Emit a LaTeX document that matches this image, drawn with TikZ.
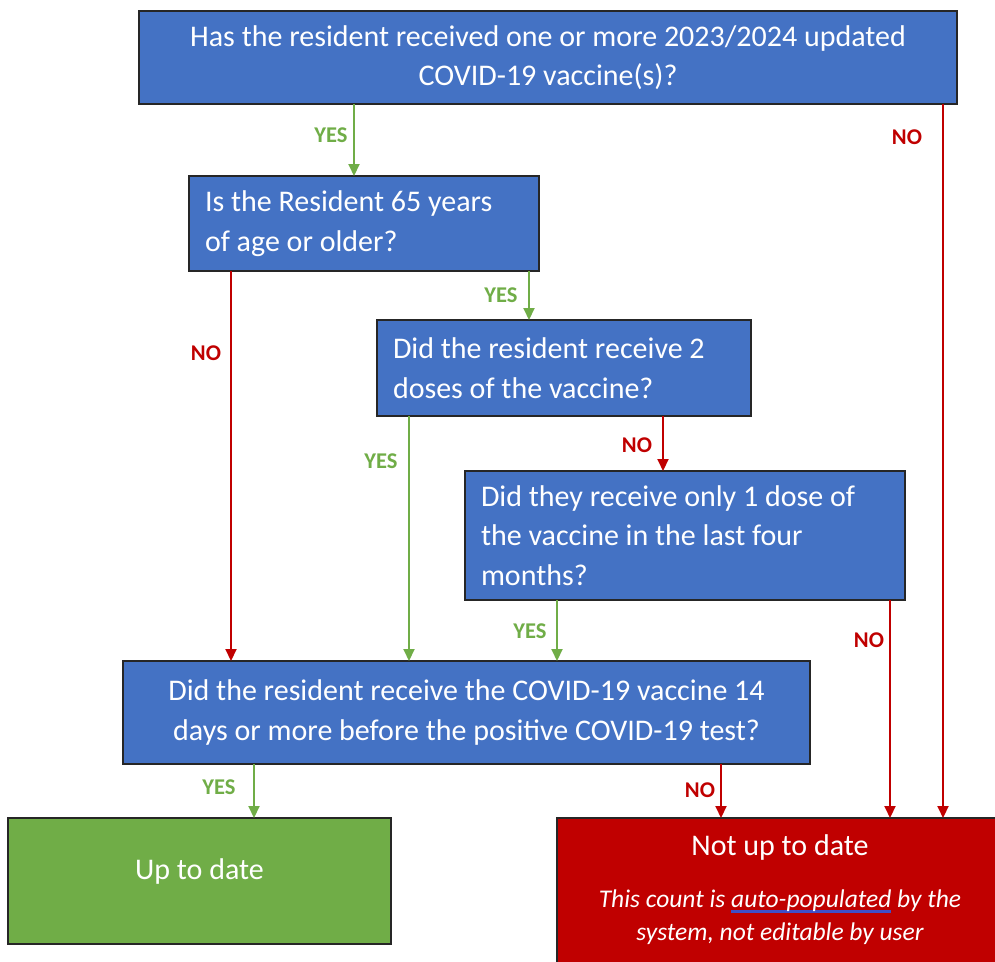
\documentclass[tikz,border=0pt]{standalone}
\usepackage{fontspec}
\setmainfont{Carlito}
\usetikzlibrary{arrows.meta}
\definecolor{qblue}{HTML}{4472C4}
\definecolor{okgreen}{HTML}{70AD47}
\definecolor{badred}{HTML}{C00000}
\definecolor{ulblue}{HTML}{3F4FC8}
\newcommand\myul[1]{\setbox0\hbox{#1}\rlap{\textcolor{ulblue}{\rule[-5.5pt]{\wd0}{2.2pt}}}\box0\relax}
\newcommand\normsp{\spaceskip=0pt\xspaceskip=0pt\relax}
\tikzset{
  qbox/.style={draw=black!85, line width=1.2pt, fill=qblue, text=white, outer sep=0pt,
    font=\fontsize{30}{39.5}\selectfont},
  qleft/.style={qbox, align=left, inner xsep=16pt, inner ysep=0pt},
  qcenter/.style={qbox, align=center, inner sep=0pt},
  endbox/.style={draw=black!85, line width=1.2pt, outer sep=0pt},
  yesarr/.style={draw=okgreen, line width=2pt, -{Triangle[length=12pt,width=11pt]}},
  noarr/.style={draw=badred, line width=2pt, -{Triangle[length=12pt,width=11pt]}},
  yeslbl/.style={text=okgreen, font=\fontsize{22.5}{26}\selectfont\bfseries, inner sep=0pt},
  nolbl/.style={text=badred, font=\fontsize{22.5}{26}\selectfont\bfseries, inner sep=0pt},
  endtxt/.style={text=white, inner sep=0pt, anchor=base}
}
\begin{document}
\begin{tikzpicture}[x=1pt,y=-1pt]
\clip (0,0) rectangle (995,961);
\fill[white] (0,0) rectangle (995,961);

\node[qcenter, minimum width=818pt, minimum height=93pt] (q1) at (548,57.5)
  {Has the resident received one or more 2023/2024 updated\\COVID-19 vaccine(s)?};
\node[qleft, text width=318pt, minimum height=95pt] (q2) at (364,223.5)
  {\normsp Is the Resident 65 years\\of age or older?};
\node[qleft, text width=342pt, minimum height=96pt] (q3) at (564,368)
  {\normsp Did the resident receive 2\\doses of the vaccine?};
\node[qleft, text width=408pt, minimum height=129pt] (q4) at (685,535.5)
  {\normsp Did they receive only 1 dose of\\the vaccine in the last four\\months?};
\node[qcenter, minimum width=687pt, minimum height=103pt] (q5) at (466.5,712.5)
  {Did the resident receive the COVID-19 vaccine 14\\days or more before the positive COVID-19 test?};

\node[endbox, fill=okgreen, minimum width=383pt, minimum height=126pt] (u) at (199.5,881) {};
\node[endtxt, font=\fontsize{30}{36}\selectfont] (ut) at (199.5,879) {Up to date};

\node[endbox, fill=badred, minimum width=446pt, minimum height=157pt] (r) at (780,896.5) {};
\node[endtxt, font=\fontsize{30}{36}\selectfont] (rt) at (780,855) {Not up to date};
\node[endtxt, font=\fontsize{25.5}{30}\selectfont\itshape] (ri1) at (780,907) {This count is \myul{auto-populated} by the};
\node[endtxt, font=\fontsize{25.5}{30}\selectfont\itshape] (ri2) at (780,940) {system, not editable by user};

% connectors
\draw[yesarr] ([xshift=215pt]q1.south west) -- ([xshift=165pt]q2.north west);
\draw[noarr]  ([xshift=804pt]q1.south west) -- ([xshift=386pt]r.north west);
\draw[noarr]  ([xshift=42pt]q2.south west) -- ([xshift=108pt]q5.north west);
\draw[yesarr] ([xshift=340pt]q2.south west) -- ([xshift=152pt]q3.north west);
\draw[yesarr] ([xshift=32pt]q3.south west) -- ([xshift=286pt]q5.north west);
\draw[noarr]  ([xshift=286pt]q3.south west) -- ([xshift=198pt]q4.north west);
\draw[yesarr] ([xshift=92pt]q4.south west) -- ([xshift=434pt]q5.north west);
\draw[noarr]  ([xshift=425pt]q4.south west) -- ([xshift=333pt]r.north west);
\draw[yesarr] ([xshift=131pt]q5.south west) -- ([xshift=246pt]u.north west);
\draw[noarr]  ([xshift=598pt]q5.south west) -- ([xshift=164pt]r.north west);

% labels
\node[yeslbl] (l1) at (331,135) {YES};
\node[nolbl]  (l2) at (907,137) {NO};
\node[nolbl]  (l3) at (206,353) {NO};
\node[yeslbl] (l4) at (501,295) {YES};
\node[yeslbl] (l5) at (381,461) {YES};
\node[nolbl]  (l6) at (637,445) {NO};
\node[yeslbl] (l7) at (530,631) {YES};
\node[nolbl]  (l8) at (869,640) {NO};
\node[yeslbl] (l9) at (219,787) {YES};
\node[nolbl]  (l10) at (700,790) {NO};
\end{tikzpicture}
\end{document}
